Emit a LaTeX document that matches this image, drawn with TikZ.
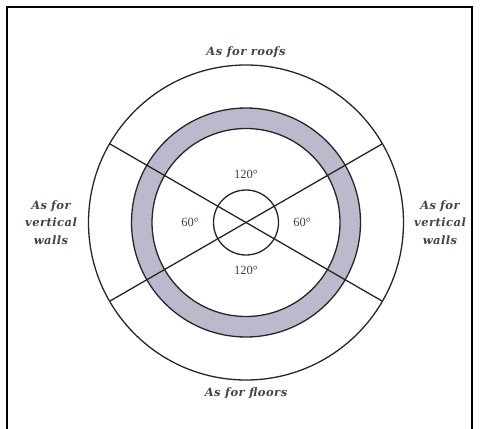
\documentclass[tikz,border=0pt]{standalone}
\usepackage{fontspec}
\setmainfont{Liberation Serif}
\newfontfamily\lblfont[LetterSpace=4]{DejaVu Serif}
\usetikzlibrary{calc}
\begin{document}
\begin{tikzpicture}[x=1pt,y=-1pt,
  ln/.style={line width=1.3pt,draw=black!85},
  lbl/.style={font=\lblfont\fontsize{11.5}{17.5}\selectfont\bfseries\itshape,text=labc,align=center,inner sep=0pt},
  ang/.style={font=\fontsize{12.5}{14}\selectfont,text=labc,inner sep=0pt}]
\definecolor{ringc}{RGB}{188,185,204}
\definecolor{labc}{RGB}{78,62,72}
\useasboundingbox (0,0) rectangle (481,428);
\fill[white] (0,0) rectangle (481,428);
\draw[line width=1.4pt] (7,445) -- (7,7) -- (472,7) -- (472,445);
\coordinate (c) at (246,222.5);
% gray ring
\fill[ringc,even odd rule] (c) circle[radius=114.5] (c) circle[radius=94];
\draw[ln] (c) circle[radius=157.5];
\draw[ln] (c) circle[radius=114.5];
\draw[ln] (c) circle[radius=94];
\draw[ln] (c) circle[radius=32.5];
\coordinate (a1) at ($(c)+(150:157.5)$);
\coordinate (a2) at ($(c)+(-30:157.5)$);
\coordinate (b1) at ($(c)+(210:157.5)$);
\coordinate (b2) at ($(c)+(30:157.5)$);
\draw[ln] (a1) -- (a2);
\draw[ln] (b1) -- (b2);
\node[lbl] (roof) at (246,52) {As for roofs};
\node[lbl] (floor) at (246,393) {As for floors};
\node[lbl,text width=80pt] (lw) at (51,222.5) {As for\\ vertical\\ walls};
\node[lbl,text width=80pt] (rw) at (440,222.5) {As for\\ vertical\\ walls};
\node[ang] (t) at (246,174) {120°};
\node[ang] (b) at (246,270) {120°};
\node[ang] (l) at (190,222) {60°};
\node[ang] (r) at (302,222) {60°};
\end{tikzpicture}
\end{document}
